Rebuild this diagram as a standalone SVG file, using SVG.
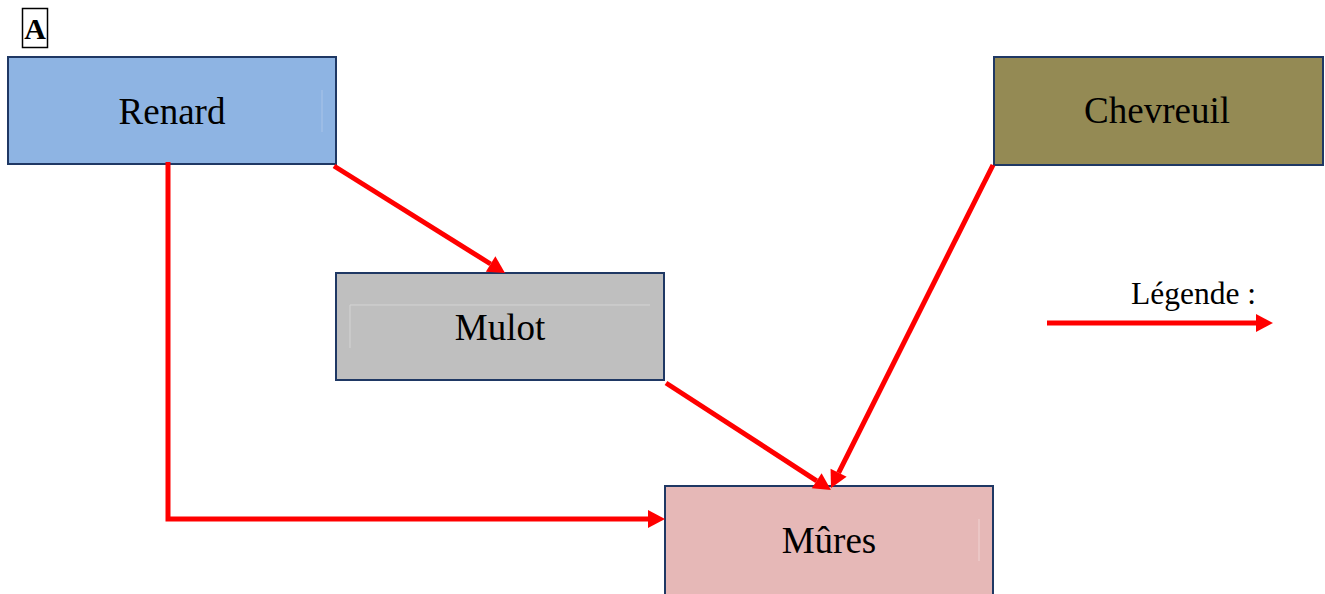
<svg xmlns="http://www.w3.org/2000/svg" width="1325" height="594" viewBox="0 0 1325 594">
<style>
.box{stroke:#1f3864;stroke-width:2}
.lbl{font-family:"Liberation Serif","Times New Roman",serif;font-size:37px;fill:#000;text-anchor:middle}
.conn{fill:none;stroke:#ff0000;stroke-width:5;marker-end:url(#ah)}
.faint{stroke-width:1;fill:none}
</style>
<defs>
<marker id="ah" markerUnits="userSpaceOnUse" markerWidth="17" markerHeight="18" refX="0" refY="9" orient="auto" overflow="visible">
<path d="M0,0 L17,9 L0,18 Z" fill="#ff0000"/>
</marker>
</defs>
<rect x="0" y="0" width="1325" height="594" fill="#ffffff"/>
<g id="label-A">
<rect x="22.5" y="8.5" width="25" height="39" fill="#ffffff" stroke="#000" stroke-width="1.5"/>
<text x="35" y="39" font-family="Liberation Serif, serif" font-weight="bold" font-size="30" text-anchor="middle">A</text>
</g>
<g id="node-renard">
<rect class="box" x="8" y="57" width="328" height="107" fill="#8eb4e3"/>
<line class="faint" x1="322" y1="90" x2="322" y2="132" stroke="#a9c4e8"/>
<text class="lbl" x="172" y="124">Renard</text>
</g>
<g id="node-chevreuil">
<rect class="box" x="994" y="57" width="329" height="108" fill="#948a54"/>
<text class="lbl" x="1157" y="123">Chevreuil</text>
</g>
<g id="node-mulot">
<rect class="box" x="336" y="273" width="328" height="107" fill="#bfbfbf"/>
<path class="faint" d="M350,348 V305 H650" stroke="#d4d4d4"/>
<text class="lbl" x="500" y="340">Mulot</text>
</g>
<g id="node-mures">
<rect class="box" x="665" y="486" width="328" height="112" fill="#e6b8b7"/>
<line class="faint" x1="979" y1="519" x2="979" y2="561" stroke="#f0d4d3"/>
<text class="lbl" x="829" y="553">Mûres</text>
</g>
<g id="connectors">
<path class="conn" d="M334,166 L490.6,264"/>
<path class="conn" d="M168,162 V519 H648"/>
<path class="conn" d="M666,383 L816.7,480.8"/>
<path class="conn" d="M993,165 L838.6,472.8"/>
</g>
<g id="legend">
<text x="1131" y="304" font-family="Liberation Serif, serif" font-size="31.5">Légende :</text>
<path class="conn" d="M1047,323 H1256"/>
</g>
</svg>
